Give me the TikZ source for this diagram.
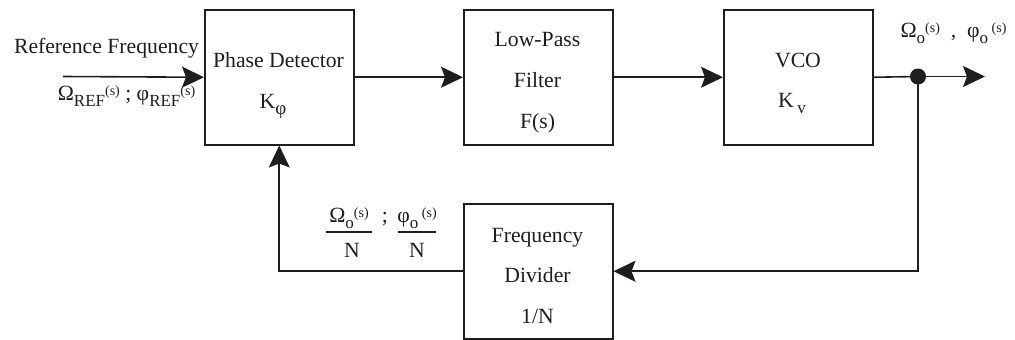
\documentclass[tikz,border=0pt]{standalone}
\usepackage{fontspec}
\setmainfont{Liberation Serif}
\usetikzlibrary{arrows.meta}
\definecolor{ink}{RGB}{30,30,30}
\newcommand\sarg{\raisebox{5pt}{\fontsize{14}{14}\selectfont(s)}}
\newcommand\subs[1]{\raisebox{-6pt}{\fontsize{17}{17}\selectfont #1}}
\begin{document}
\begin{tikzpicture}[x=1pt,y=-1pt,
  box/.style={draw=ink, line width=1.5pt, minimum width=149pt, minimum height=135pt, inner sep=0pt, anchor=north west},
  lbl/.style={inner sep=0pt, anchor=base, text=ink, font=\fontsize{21.7}{26}\selectfont},
  wire/.style={draw=ink, line width=1.6pt},
  arr/.style={wire, -{Stealth[length=22pt,width=21pt,inset=4pt]}},
  bar/.style={draw=ink, line width=1.4pt}
]
\useasboundingbox (0,0) rectangle (1015,340);
% boxes
\node[box] (pd) at (204,9) {};
\node[box] (lpf) at (463,9) {};
\node[box] (vco) at (723,9) {};
\node[box] (div) at (463,203) {};
% connectors
\coordinate (in) at (63,76.5);
\coordinate (dot) at (918,76.5);
\coordinate (out) at (985,76.5);
\draw[arr] (in) -- (pd.west);
\draw[arr] (pd.east) -- (lpf.west);
\draw[arr] (lpf.east) -- (vco.west);
\draw[wire] (vco.east) -- (dot);
\draw[arr] (dot) -- (out);
\draw[arr] (dot) |- (div.east);
\draw[arr] (div.west) -| (pd.south);
\fill[ink] (dot) circle (8);
% texts
\node[lbl] (rf) at (106.5,53) {Reference Frequency};
\node[lbl] (rfs) at (126.5,100) {Ω\subs{REF}\sarg\ ; φ\subs{REF}\sarg};
\node[lbl] (pd1) at (278.5,67) {Phase Detector};
\node[lbl] (pd2) at (273,108) {K\subs{\fontsize{19}{19}\selectfont φ}};
\node[lbl] (lpf1) at (537.5,46) {Low-Pass};
\node[lbl] (lpf2) at (537.5,87) {Filter};
\node[lbl] (lpf3) at (537.5,128) {F(s)};
\node[lbl] (vco1) at (798,67) {VCO};
\node[lbl] (vco2) at (792,107) {K\,\subs{v}};
\node[lbl] (outl) at (953.5,37) {Ω\subs{o}\sarg\ \ , \ φ\subs{o}\,\sarg};
\node[lbl] (div1) at (537.5,242) {Frequency};
\node[lbl] (div2) at (537.5,282) {Divider};
\node[lbl] (div3) at (537.5,323) {1/N};
% feedback fractions
\node[lbl] (fn1) at (349,222) {Ω\subs{o}\sarg};
\node[lbl] (fd1) at (352,257) {N};
\draw[bar] (326,232) -- (372,232);
\node[lbl] (semi) at (385,222) {;};
\node[lbl] (fn2) at (417,222) {φ\subs{o}\,\sarg};
\node[lbl] (fd2) at (417,257) {N};
\draw[bar] (398,232) -- (436,232);
\end{tikzpicture}
\end{document}
